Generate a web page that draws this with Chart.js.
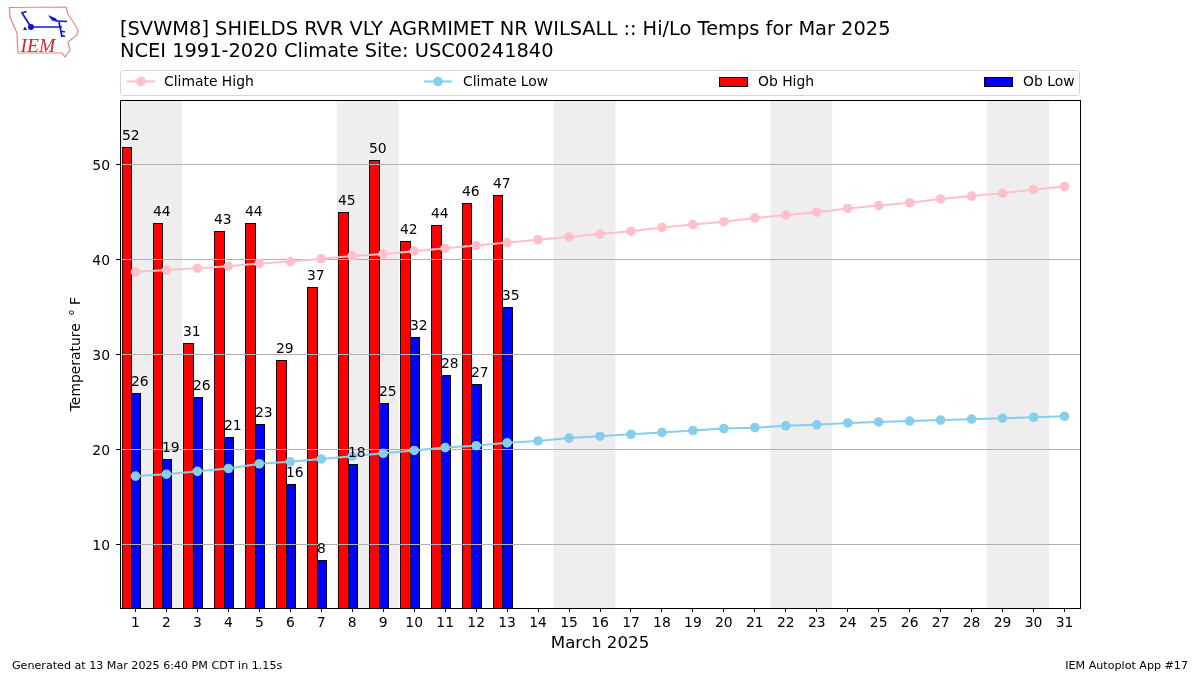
<!DOCTYPE html>
<html><head><meta charset="utf-8">
<script src="https://cdn.jsdelivr.net/npm/chart.js@4"></script>
<style>
html,body{margin:0;padding:0;background:#fff;width:1200px;height:675px;overflow:hidden;font-family:"DejaVu Sans",sans-serif}
#wrap{position:absolute;left:0;top:0;width:1200px;height:675px}
.foot{position:absolute;top:659px;font-size:11.11px;color:#000;line-height:14px;white-space:nowrap}
#logo{position:absolute;left:0;top:0}
</style></head><body>
<div id="wrap"><canvas id="c" width="1200" height="675"></canvas></div>
<svg id="logo" width="90" height="65" viewBox="0 0 90 65">
<path d="M9.5 7.5 L66 7 L68 14 L72 20 L78 30 L77 35 L68 42 L70 50 L65 57 L62 53 L18 53 L17 33 L10 17 Z" fill="none" stroke="#e6858b" stroke-width="1.2"/>
<g stroke="#1414d8" fill="none" stroke-width="1.7">
<path d="M31 27 L62 27 M31 27 L22 13 L26.5 11.5"/>
<path d="M57 21 L67 21.5 M59 22 L62 37 M60.5 31 L65 32 M61 35 L65 36.5"/>
</g>
<circle cx="31" cy="27" r="3" fill="#1414d8"/>
<path d="M48 15 L56 18.5 L58 22 L52 20.5 Z" fill="#1414d8"/>
<path d="M23 30 L25 26.5 L27 30 Z" fill="#1414d8"/>
<text x="20.5" y="52" font-family="Liberation Serif" font-style="italic" font-size="19.5" fill="#d2282e">IEM</text>
</svg>
<div class="foot" style="left:12px">Generated at 13 Mar 2025 6:40 PM CDT in 1.15s</div>
<div class="foot" style="right:12px">IEM Autoplot App #17</div>
<script>
const days = ["1","2","3","4","5","6","7","8","9","10","11","12","13","14","15","16","17","18","19","20","21","22","23","24","25","26","27","28","29","30","31"];
const climateHigh = [38.7,38.9,39.1,39.3,39.6,39.8,40.1,40.4,40.6,40.9,41.2,41.5,41.8,42.1,42.4,42.7,43.0,43.4,43.7,44.0,44.4,44.7,45.0,45.4,45.7,46.0,46.4,46.7,47.0,47.4,47.7];
const climateLow = [17.2,17.4,17.7,18.0,18.5,18.7,19.0,19.3,19.6,19.9,20.2,20.4,20.7,20.9,21.2,21.4,21.6,21.8,22.0,22.2,22.3,22.5,22.6,22.8,22.9,23.0,23.1,23.2,23.3,23.4,23.5];
const obHigh = [51.8,43.8,31.2,43.0,43.8,29.4,37.1,45.0,50.4,41.9,43.6,45.9,46.8];
const obLow = [25.9,18.9,25.5,21.3,22.6,16.3,8.3,18.4,24.8,31.8,27.8,26.9,35.0];
const weekendSpans = [[1,2],[8,9],[15,16],[22,23],[29,30]];
const yTicks = [10,20,30,40,50];
const titleLines = ["[SVWM8] SHIELDS RVR VLY AGRMIMET NR WILSALL :: Hi/Lo Temps for Mar 2025","NCEI 1991-2020 Climate Site: USC00241840"];
const FONT = '"DejaVu Sans"';

const spans = {id:'spans',beforeDatasetsDraw(ch){
  const {ctx,chartArea:a,scales:{x}}=ch; const step=x.getPixelForValue(1)-x.getPixelForValue(0);
  ctx.save(); ctx.fillStyle='#eeeeee';
  weekendSpans.forEach(([s,e])=>{const l=x.getPixelForValue(s-1)-step/2,r=x.getPixelForValue(e-1)+step/2;ctx.fillRect(l,a.top,r-l,a.bottom-a.top);});
  ctx.restore();
}};
// snap bar edges to whole pixels so the outlines stay crisp; neighbours share one outline column
const snapBars = {id:'snapBars',beforeDatasetDraw(ch,args){
  if(args.index!==2 && args.index!==3) return;
  ch.getDatasetMeta(args.index).data.forEach(b=>{
    if(b._snapped) return; b._snapped=true;
    const l=Math.round(b.x-b.width/2), r=Math.round(b.x+b.width/2)+1;
    b.x=(l+r)/2; b.width=r-l; b.y=Math.floor(b.y); b.base=ch.chartArea.bottom+2;
  });
}};
// grid sits over the bars but under the lines; index 0 is the first line drawn
const gridOverBars = {id:'gridOverBars',beforeDatasetDraw(ch,args){
  if(args.index!==0) return;
  const {ctx,chartArea:a,scales:{y}}=ch;
  ctx.save(); ctx.strokeStyle='#b0b0b0'; ctx.lineWidth=1;
  y.ticks.forEach(t=>{const p=Math.floor(y.getPixelForValue(t.value))+0.5;ctx.beginPath();ctx.moveTo(a.left,p);ctx.lineTo(a.right,p);ctx.stroke();});
  ctx.restore();
}};
const barLabels = {id:'barLabels',afterDatasetsDraw(ch){
  const {ctx}=ch; ctx.save(); ctx.font='13.9px '+FONT; ctx.fillStyle='#000'; ctx.textAlign='left'; ctx.textBaseline='alphabetic';
  [2,3].forEach(i=>{ch.getDatasetMeta(i).data.forEach((b,k)=>{
    const v=ch.data.datasets[i].data[k]; ctx.fillText(String(Math.round(v)),b.x-b.width/2,b.y-7);
  });});
  ctx.restore();
}};
const frame = {id:'frame',afterDatasetsDraw(ch){
  const {ctx,chartArea:a}=ch; ctx.save(); ctx.strokeStyle='#000'; ctx.lineWidth=1;
  ctx.strokeRect(Math.round(a.left)+0.5,Math.round(a.top)+0.5,Math.round(a.right-a.left),Math.round(a.bottom-a.top)); ctx.restore();
}};
const legendXs=[127,424,719,984];
const legendTextXs=[164,463,758,1023];
const boxLegend = {id:'boxLegend',afterDraw(ch){
  const {ctx}=ch; ctx.save();
  ctx.beginPath(); ctx.roundRect(120.5,70.5,959,25,3); ctx.strokeStyle='#d5d5d5'; ctx.lineWidth=1; ctx.stroke();
  ctx.font='13.9px '+FONT; ctx.textBaseline='alphabetic'; ctx.textAlign='left';
  ch.data.datasets.filter(d=>d.label).forEach((d,i)=>{
    const x0=legendXs[i],yc=81.5;
    if(d.type==='line'){
      ctx.strokeStyle=d.borderColor; ctx.lineWidth=2; ctx.beginPath(); ctx.moveTo(x0,yc); ctx.lineTo(x0+28,yc); ctx.stroke();
      ctx.fillStyle=d.borderColor; ctx.beginPath(); ctx.arc(x0+14,yc,4.8,0,7); ctx.fill();
    }else{
      ctx.fillStyle=d.backgroundColor; ctx.strokeStyle='#000'; ctx.lineWidth=1; ctx.fillRect(x0+.5,77.5,28,9); ctx.strokeRect(x0+.5,77.5,28,9);
    }
    ctx.fillStyle='#000'; ctx.fillText(d.label,legendTextXs[i],86);
  });
  ctx.restore();
}};

new Chart(document.getElementById('c'),{
  data:{labels:days,datasets:[
    {type:'line',label:'Climate High',data:climateHigh,borderColor:'#ffc0cb',backgroundColor:'#ffc0cb',borderWidth:2,pointRadius:4.8,pointHoverRadius:4.8,pointBorderWidth:0,tension:0,order:1},
    {type:'line',label:'Climate Low',data:climateLow,borderColor:'#87ceeb',backgroundColor:'#87ceeb',borderWidth:2,pointRadius:4.8,pointHoverRadius:4.8,pointBorderWidth:0,tension:0,order:0},
    {type:'bar',label:'Ob High',data:obHigh,backgroundColor:'#ff0000',borderColor:'#000',borderWidth:1,categoryPercentage:0.9,barPercentage:1,order:2},
    {type:'bar',label:'Ob Low',data:obLow,backgroundColor:'#0000ff',borderColor:'#000',borderWidth:1,categoryPercentage:0.9,barPercentage:1,order:3},
    // empty third slot: puts Ob Low on the day's centre and Ob High one slot to its left
    {type:'bar',label:'',data:[],categoryPercentage:0.9,barPercentage:1,order:4}
  ]},
  plugins:[spans,snapBars,gridOverBars,barLabels,frame,boxLegend],
  options:{
    responsive:false,animation:false,devicePixelRatio:1,
    layout:{padding:{left:60,right:120,top:0,bottom:0}},
    plugins:{
      legend:{display:false},tooltip:{enabled:false},
      title:{display:true,text:titleLines,align:'start',fullSize:false,color:'#000',font:{family:FONT,size:19.4,weight:'normal',lineHeight:1.14},padding:{top:19,bottom:37}}
    },
    scales:{
      x:{type:'category',offset:true,grid:{display:true,offset:false,drawOnChartArea:false,drawTicks:true,tickLength:4,color:'#000'},border:{display:false},
        ticks:{color:'#000',font:{family:FONT,size:13.9},maxRotation:0,autoSkip:false,padding:3},
        title:{display:true,text:'March 2025',color:'#000',font:{family:FONT,size:16.67},padding:{top:0,bottom:21}},
        afterFit(s){s.height=67;}},
      y:{type:'linear',min:3.3,max:56.8,afterBuildTicks(s){s.ticks=yTicks.map(v=>({value:v}));},
        grid:{display:true,drawOnChartArea:false,drawTicks:true,tickLength:4,color:'#000'},border:{display:false},
        ticks:{color:'#000',font:{family:FONT,size:13.9},padding:6,labelOffset:1.5},
        title:{display:true,text:'Temperature \u2009°\u2009\u200aF',color:'#000',font:{family:FONT,size:13.9},padding:{top:8,bottom:0}},
        afterFit(s){s.width=60;}}
    }
  }
});
</script>
</body></html>
